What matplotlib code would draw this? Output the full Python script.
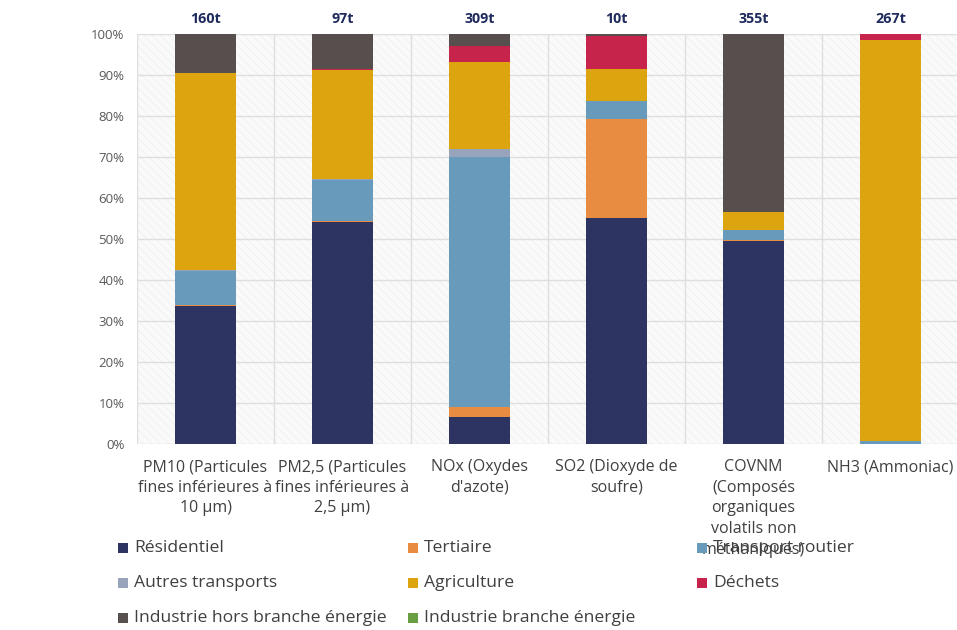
import matplotlib.pyplot as plt
import numpy as np
from matplotlib.patches import Rectangle

plt.rcParams['font.family'] = ['Open Sans', 'DejaVu Sans']
plt.rcParams['hatch.linewidth'] = 0.6

# pollutants and total emissions
polluants = ['PM10 (Particules\nfines inférieures à\n10 µm)',
             'PM2,5 (Particules\nfines inférieures à\n2,5 µm)',
             'NOx (Oxydes\nd\'azote)',
             'SO2 (Dioxyde de\nsoufre)',
             'COVNM\n(Composés\norganiques\nvolatils non\nméthaniques)',
             'NH3 (Ammoniac)']
totaux = ['160t', '97t', '309t', '10t', '355t', '267t']

# share of each sector, in %
residentiel = [33.6, 54.1, 6.6, 55.1, 49.4, 0.0]
tertiaire = [0.4, 0.4, 2.5, 24.1, 0.3, 0.0]
transport_routier = [8.2, 10.0, 61.0, 4.5, 2.5, 0.65]
autres_transports = [0.3, 0.2, 1.8, 0.0, 0.0, 0.0]
agriculture = [47.9, 26.4, 21.3, 7.7, 4.3, 97.85]
dechets = [0.2, 0.4, 3.8, 8.2, 0.0, 1.5]
industrie_hors = [9.4, 8.5, 3.0, 0.4, 43.5, 0.0]
industrie_energie = [0.0, 0.0, 0.0, 0.0, 0.0, 0.0]

secteurs = ['Résidentiel', 'Tertiaire', 'Transport routier', 'Autres transports',
            'Agriculture', 'Déchets', 'Industrie hors branche énergie',
            'Industrie branche énergie']
valeurs = [residentiel, tertiaire, transport_routier, autres_transports,
           agriculture, dechets, industrie_hors, industrie_energie]
couleurs = ['#2e3462', '#e88c42', '#689bbb', '#97a4bb',
            '#dca510', '#c6244b', '#574e4e', '#6a9e43']

fig = plt.figure(figsize=(9.57, 6.30), dpi=100)
ax = fig.add_axes([137 / 957, 186 / 630, 822 / 957, 410 / 630])

x = np.arange(len(polluants))
bas = np.zeros(len(polluants))
for nom, v, c in zip(secteurs, valeurs, couleurs):
    v = np.array(v)
    ax.bar(x, v, 0.45, bottom=bas, color=c, label=nom, zorder=3)
    bas += v

# hatched light background
ax.set_facecolor('#fafafa')
ax.add_patch(Rectangle((0, 0), 1, 1, transform=ax.transAxes, facecolor='none',
                       edgecolor='#f0f0f0', hatch='\\\\\\\\', linewidth=0, zorder=0))

ax.set_xlim(-0.5, len(polluants) - 0.5)
ax.set_ylim(0, 100)
ax.set_yticks(np.arange(0, 101, 10))
ax.set_yticklabels([f'{t}%' for t in range(0, 101, 10)], fontsize=9.5, color='#595959')
ax.set_xticks(x)
ax.set_xticklabels(polluants, fontsize=11.5, color='#404040', linespacing=1.38, va='top')
ax.set_xticks(np.arange(-0.5, len(polluants), 1), minor=True)
ax.tick_params(which='both', length=0)
ax.tick_params(axis='x', pad=11)
ax.tick_params(axis='y', pad=9)
ax.grid(axis='y', color='#dedede', linewidth=1, zorder=1)
ax.grid(axis='x', which='minor', color='#dedede', linewidth=1, zorder=1)
for s in ax.spines.values():
    s.set_visible(False)

for xi, t in zip(x, totaux):
    ax.text(xi, 103.6, t, ha='center', va='center', fontsize=10.3, fontweight='bold',
            color='#1f2a5c')

# legend laid out row by row
cols = [118, 408, 697]
rows = [548, 583, 618]
for i, (nom, c) in enumerate(zip(secteurs, couleurs)):
    px = cols[i % 3]
    py = rows[i // 3]
    fig.patches.append(Rectangle((px / 957, (630 - py - 5) / 630), 10 / 957, 10 / 630,
                                 transform=fig.transFigure, facecolor=c, edgecolor='none'))
    fig.text((px + 16) / 957, (630 - py) / 630, nom, fontsize=12.6, color='#404040',
             va='center', ha='left')

fig.savefig('out.png', dpi=100)
